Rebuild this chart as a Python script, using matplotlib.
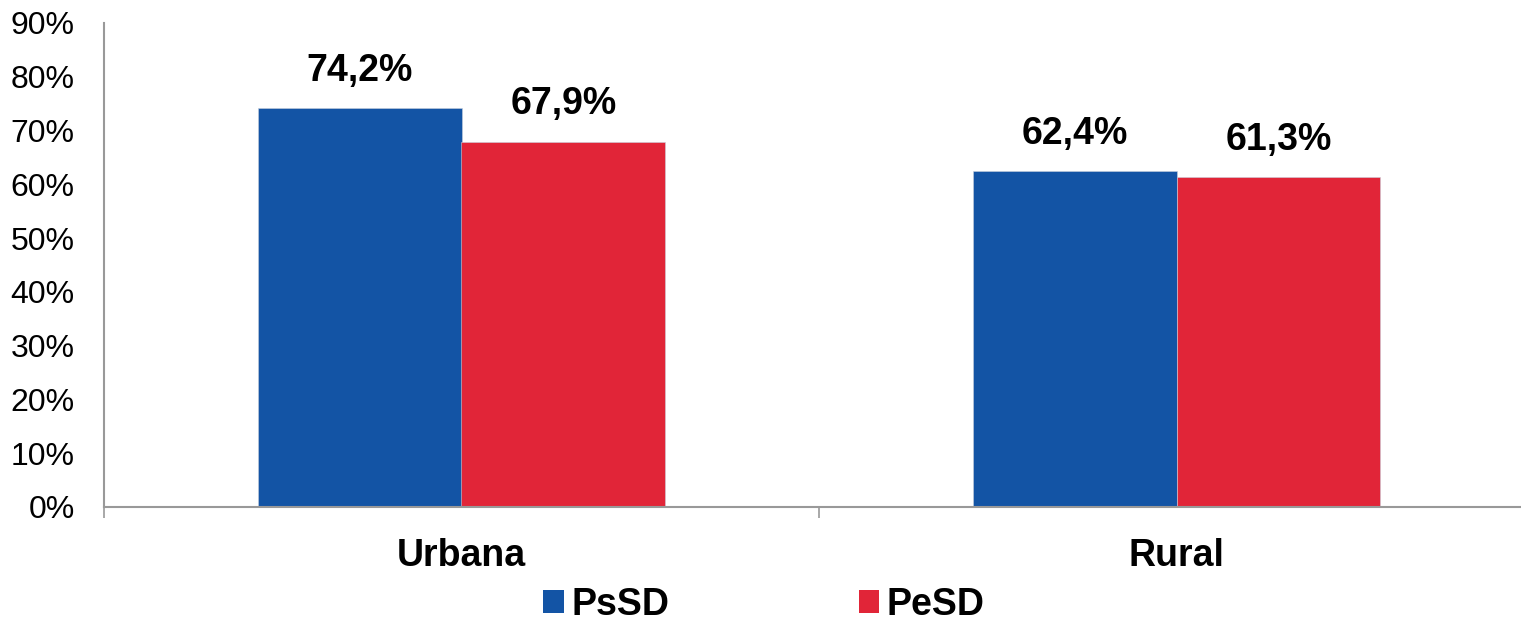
import numpy as np
import matplotlib.pyplot as plt
from matplotlib.patches import Patch

plt.rcParams['font.family'] = ['Liberation Sans', 'DejaVu Sans']

categories = ["Urbana", "Rural"]
series = ["PsSD", "PeSD"]
psd = [74.2, 62.4]
pesd = [67.9, 61.3]
colors = ["#1354a5", "#e12538"]
yticks = [0, 10, 20, 30, 40, 50, 60, 70, 80, 90]

fig = plt.figure(figsize=(15.21, 6.23), dpi=100)
ax = fig.add_axes([104 / 1521, 116 / 623, 1430 / 1521, 484 / 623])

x = np.arange(len(categories)) + 0.5
w = 0.285
for i, (vals, c) in enumerate(zip([psd, pesd], colors)):
    pos = x + (i - 0.5) * w
    ax.bar(pos, vals, width=w, color=c, edgecolor='#c8d0dc', linewidth=0.4)
    for p, v in zip(pos, vals):
        ax.annotate(("%.1f%%" % v).replace('.', ','), (p, v),
                    xytext=(0, 14), textcoords='offset points',
                    ha='center', va='bottom', fontsize=27, fontweight='bold')

ax.set_xlim(0, 2)
ax.set_ylim(0, 90)
ax.set_yticks(yticks)
ax.set_yticklabels(["%d%%" % t for t in yticks], fontsize=23)
ax.tick_params(axis='y', length=0, pad=21)

ax.set_xticks([0, 1, 2])
ax.set_xticklabels([])
ax.set_xticks(x, minor=True)
ax.set_xticklabels(categories, minor=True, fontsize=27, fontweight='bold')
ax.tick_params(axis='x', which='major', length=8, width=1.2, color='#999999')
ax.tick_params(axis='x', which='minor', length=0, pad=22)

for s in ['top', 'right']:
    ax.spines[s].set_visible(False)
for s in ['left', 'bottom']:
    ax.spines[s].set_color('#999999')
    ax.spines[s].set_linewidth(1.5)

handles = [Patch(facecolor=c) for c in colors]
fig.legend(handles, series, loc='center', bbox_to_anchor=(764 / 1521, 18 / 623),
           ncol=2, frameon=False, prop={'size': 27, 'weight': 'bold'},
           handlelength=0.55, handleheight=0.55, handletextpad=0.2,
           columnspacing=5.05, borderpad=0)

fig.savefig('out.png', dpi=100)
